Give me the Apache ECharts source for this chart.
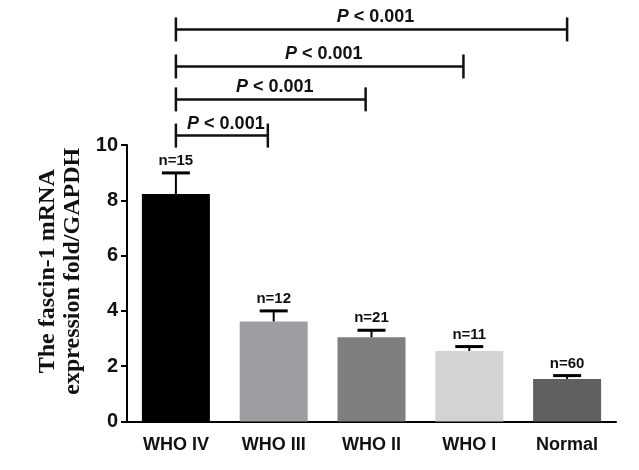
<!DOCTYPE html>
<html>
<head>
<meta charset="utf-8">
<script src="https://cdn.jsdelivr.net/npm/echarts@6/dist/echarts.min.js"></script>
<style>html,body{margin:0;padding:0;background:#fff}#c{width:639px;height:470px}</style>
</head>
<body>
<div id="c"></div>
<script>
var categories = ['WHO IV', 'WHO III', 'WHO II', 'WHO I', 'Normal'];
var means = [8.23, 3.62, 3.05, 2.55, 1.54];
var upperErr = [8.99, 4.0, 3.30, 2.71, 1.66];
var nLabels = ['n=15', 'n=12', 'n=21', 'n=11', 'n=60'];
var barColors = ['#000000', '#9e9ea2', '#7f7f7f', '#d3d3d3', '#606060'];
var yTicks = [0, 2, 4, 6, 8, 10];
var bracketPairs = [[0, 1, 10.34], [0, 2, 11.65], [0, 3, 12.84], [0, 4, 14.18]];
var bracketLabel = 'P < 0.001';

var chart = echarts.init(document.getElementById('c'));
var FONT = '"Liberation Sans", Arial, sans-serif';

var option = {
  backgroundColor: '#fff',
  animation: false,
  grid: { left: 127, right: 23, top: 145, bottom: 48.5 },
  xAxis: {
    type: 'category',
    data: categories,
    axisLine: { lineStyle: { color: '#000', width: 2 } },
    axisTick: { alignWithLabel: true, length: 7, lineStyle: { color: '#000', width: 2 } },
    axisLabel: { color: '#111', fontFamily: FONT, fontWeight: 'bold', fontSize: 18, margin: 15 }
  },
  yAxis: {
    type: 'value',
    min: yTicks[0],
    max: yTicks[yTicks.length - 1],
    interval: 2,
    splitLine: { show: false },
    axisLine: { show: true, lineStyle: { color: '#000', width: 2 } },
    axisTick: { show: true, length: 6, lineStyle: { color: '#000', width: 2 } },
    axisLabel: { color: '#111', fontFamily: FONT, fontWeight: 'bold', fontSize: 20, margin: 9 },
    name: 'The fascin-1 mRNA\nexpression fold/GAPDH',
    nameLocation: 'middle',
    nameRotate: 90,
    nameGap: 37,
    nameTextStyle: { color: '#111', fontFamily: '"Liberation Serif", "Times New Roman", serif', fontWeight: 'bold', fontSize: 24, lineHeight: 25, padding: [0, 0, 0, 24] }
  },
  series: [
    {
      type: 'bar',
      barWidth: 68,
      data: means.map(function (v, i) { return { value: v, itemStyle: { color: barColors[i] } }; }),
      z: 2
    },
    {
      type: 'custom',
      clip: false,
      z: 3,
      data: means.map(function (v, i) { return [i, v, upperErr[i]]; }),
      renderItem: function (params, api) {
        var i = api.value(0);
        var top = api.coord([i, api.value(1)]);
        var cap = api.coord([i, api.value(2)]);
        var hw = 14;
        return {
          type: 'group',
          children: [
            { type: 'line', shape: { x1: top[0], y1: top[1], x2: cap[0], y2: cap[1] }, style: { stroke: '#000', lineWidth: 2 } },
            { type: 'line', shape: { x1: cap[0] - hw, y1: cap[1], x2: cap[0] + hw, y2: cap[1] }, style: { stroke: '#000', lineWidth: 3 } },
            { type: 'text', style: { text: nLabels[params.dataIndex], x: cap[0], y: cap[1] - 12, textAlign: 'center', textVerticalAlign: 'middle', font: 'bold 15px ' + FONT, fill: '#111' } }
          ]
        };
      }
    },
    {
      type: 'custom',
      clip: false,
      z: 3,
      data: bracketPairs,
      renderItem: function (params, api) {
        var band = api.size([1, 0])[0];
        var endIdx = api.value(1);
        var shift = endIdx < categories.length - 1 ? -0.06 * band : 0;
        var a = api.coord([api.value(0), api.value(2)]);
        var b = api.coord([endIdx, api.value(2)]);
        b[0] += shift;
        var t = 12;
        return {
          type: 'group',
          children: [
            { type: 'line', shape: { x1: a[0], y1: a[1], x2: b[0], y2: b[1] }, style: { stroke: '#111', lineWidth: 2.5 } },
            { type: 'line', shape: { x1: a[0], y1: a[1] - t, x2: a[0], y2: a[1] + t }, style: { stroke: '#111', lineWidth: 2.5 } },
            { type: 'line', shape: { x1: b[0], y1: b[1] - t, x2: b[0], y2: b[1] + t }, style: { stroke: '#111', lineWidth: 2.5 } },
            {
              type: 'text',
              style: {
                text: '{i|P}{n| < 0.001}',
                x: (a[0] + b[0]) / 2 + 4,
                y: a[1] - 12,
                textAlign: 'center',
                textVerticalAlign: 'middle',
                rich: {
                  i: { fontFamily: FONT, fontWeight: 'bold', fontStyle: 'italic', fontSize: 18, fill: '#111', color: '#111' },
                  n: { fontFamily: FONT, fontWeight: 'bold', fontSize: 18, fill: '#111', color: '#111' }
                }
              }
            }
          ]
        };
      }
    }
  ]
};
chart.setOption(option);
</script>
</body>
</html>
